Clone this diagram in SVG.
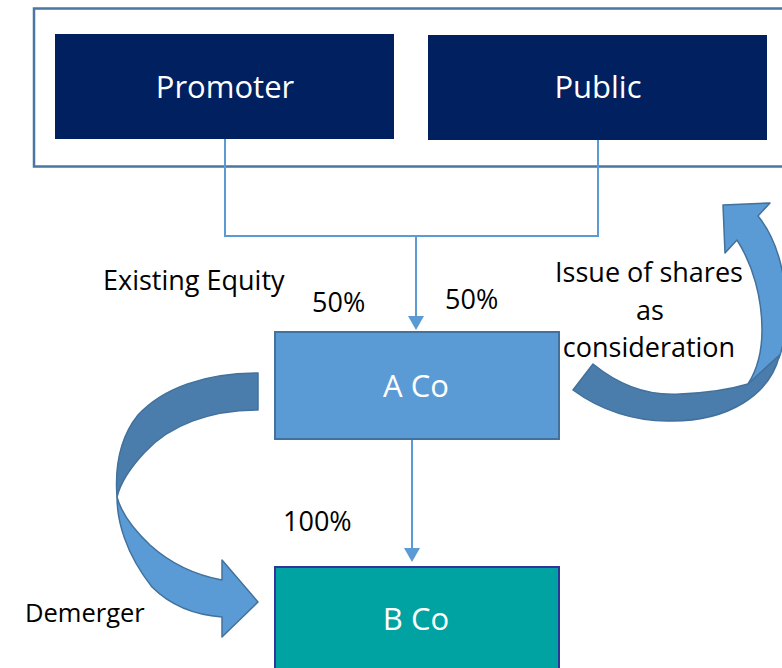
<svg xmlns="http://www.w3.org/2000/svg" width="782" height="668" viewBox="0 0 782 668">
<defs>
<style>
.navy{fill:#002060}
.wt{fill:#ffffff;font-family:"Open Sans","Liberation Sans",sans-serif;font-size:31px;text-anchor:middle}
.lbl{fill:#000000;font-family:"Open Sans","Liberation Sans",sans-serif;font-size:27px}
.mid{text-anchor:middle}
.conn{fill:none;stroke:#5b9bd5;stroke-width:2}
.lightarrow{fill:#5b9bd5;stroke:#41719c;stroke-width:1.5;stroke-linejoin:round}
.darkarrow{fill:#4a7dab;stroke:#41719c;stroke-width:1.5;stroke-linejoin:round}
</style>
<marker id="ah" markerUnits="userSpaceOnUse" markerWidth="16" markerHeight="16" viewBox="0 0 14 16" refX="0" refY="8" orient="auto">
<path d="M0,0 L14,8 L0,16 Z" fill="#5b9bd5"/>
</marker>
</defs>
<rect width="782" height="668" fill="#ffffff"/>

<g id="frame">
<rect x="34" y="8.5" width="770" height="158" fill="none" stroke="#4a76a3" stroke-width="2.5"/>
</g>

<g id="promoter">
<rect class="navy" x="55" y="34" width="339" height="105"/>
<text class="wt" x="225" y="98">Promoter</text>
</g>

<g id="public">
<rect class="navy" x="428" y="35" width="339" height="105"/>
<text class="wt" x="598" y="98">Public</text>
</g>

<g id="connectors">
<path class="conn" d="M225,139 V236 H598 V140"/>
<path class="conn" d="M416,236 V316" marker-end="url(#ah)"/>
<path class="conn" d="M412,439 V548" marker-end="url(#ah)"/>
</g>

<g id="aco">
<rect x="275" y="332" width="284" height="107" fill="#5b9bd5" stroke="#41719c" stroke-width="2"/>
<text class="wt" x="416" y="397">A Co</text>
</g>

<g id="bco">
<rect x="275" y="567" width="284" height="110" fill="#00a3a1" stroke="#2f3699" stroke-width="2"/>
<text class="wt" x="416" y="630">B Co</text>
</g>

<g id="issue-arrow">
<path class="lightarrow" d="M723,205 L770,203 L758,216 C778,240 788,280 786,322 C785,340 782,350 779,358 L748,384 C757,370 762,352 762,330 C762,298 753,265 737,240 L725,253 Z"/>
<path class="darkarrow" d="M573,390 L593,364 C620,386 650,396 680,394 C705,393 728,390 748,384 L779.5,355 C770,395 728,421 672,421 C635,422 600,410 573,390 Z"/>
</g>

<g id="demerger-arrow">
<path class="lightarrow" d="M117,497 C117,520 125,553 152,587 C170,605 195,615 222,617 L222,637 L258,602 L222,560 L222,580 C195,575 170,563 150,545 C132,528 121,512 117,497 Z"/>
<path class="darkarrow" d="M258,373 L258,410 C210,410 170,425 145,452 C128,470 120,485 117,497 C115,470 118,440 138,415 C163,388 205,373 258,373 Z"/>
</g>

<g id="labels">
<text class="lbl" x="103" y="290">Existing Equity</text>
<text class="lbl" x="312" y="312">50%</text>
<text class="lbl" x="445" y="309">50%</text>
<text class="lbl" x="283" y="531">100%</text>
<text class="lbl mid" x="649" y="282">Issue of shares</text>
<text class="lbl mid" x="650" y="320">as</text>
<text class="lbl mid" x="649" y="357">consideration</text>
<text class="lbl" x="25" y="622" style="font-size:25.5px">Demerger</text>
</g>
</svg>
